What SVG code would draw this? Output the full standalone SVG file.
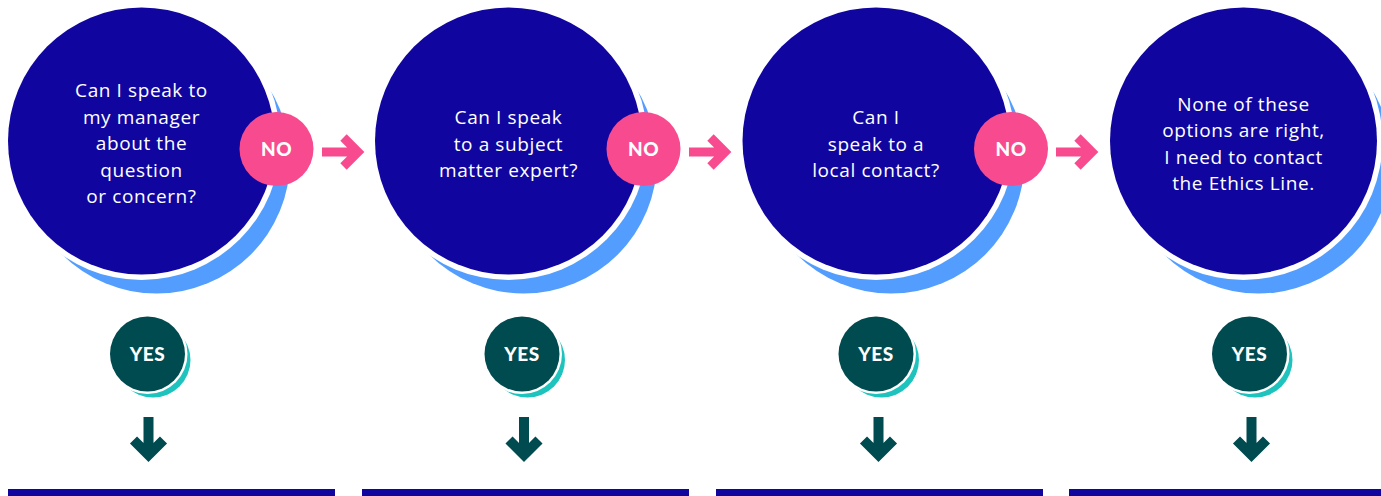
<svg xmlns="http://www.w3.org/2000/svg" width="1381" height="496" viewBox="0 0 1381 496">
  <defs>
    <style>
      .q { fill: #10069F; }
      .qshade { fill: #539DFF; }
      .gap { fill: #FFFFFF; }
      .qt { fill: #FFFFFF; font-family: "Open Sans", Lato, "Liberation Sans", sans-serif; font-size: 19px; letter-spacing: 0.6px; text-anchor: middle; }
      .no { fill: #F84B8F; }
      .yes { fill: #004B4F; }
      .yshade { fill: #1EC3BE; }
      .badge { fill: #FFFFFF; font-family: Lato, "Liberation Sans", sans-serif; font-weight: 900; font-size: 19px; letter-spacing: 0.5px; text-anchor: middle; }
      .next { fill: none; stroke: #F84B8F; stroke-width: 9; stroke-linejoin: miter; }
      .down { fill: none; stroke: #004B4F; stroke-width: 10; stroke-linejoin: miter; }
      .bar { fill: #10069F; }
    </style>
  </defs>

  <rect width="1381" height="496" fill="#FFFFFF"/>

  <!-- question circles -->
  <g id="q1">
    <circle class="qshade" cx="156.5" cy="160" r="133.5"/>
    <circle class="gap" cx="141.5" cy="141" r="139"/>
    <circle class="q" cx="141.5" cy="141" r="133.5"/>
    <text class="qt" x="141.5" y="97">Can I speak to</text>
    <text class="qt" x="141.5" y="123.5">my manager</text>
    <text class="qt" x="141.5" y="150">about the</text>
    <text class="qt" x="141.5" y="176.5">question</text>
    <text class="qt" x="141.5" y="203">or concern?</text>
  </g>
  <g id="q2">
    <circle class="qshade" cx="523.5" cy="160" r="133.5"/>
    <circle class="gap" cx="508.5" cy="141" r="139"/>
    <circle class="q" cx="508.5" cy="141" r="133.5"/>
    <text class="qt" x="508.5" y="124">Can I speak</text>
    <text class="qt" x="508.5" y="150.5">to a subject</text>
    <text class="qt" x="508.5" y="177">matter expert?</text>
  </g>
  <g id="q3">
    <circle class="qshade" cx="891" cy="160" r="133.5"/>
    <circle class="gap" cx="876" cy="141" r="139"/>
    <circle class="q" cx="876" cy="141" r="133.5"/>
    <text class="qt" x="876" y="124">Can I</text>
    <text class="qt" x="876" y="150.5">speak to a</text>
    <text class="qt" x="876" y="177">local contact?</text>
  </g>
  <g id="q4">
    <circle class="qshade" cx="1258.5" cy="160" r="133.5"/>
    <circle class="gap" cx="1243.5" cy="141" r="139"/>
    <circle class="q" cx="1243.5" cy="141" r="133.5"/>
    <text class="qt" x="1243.5" y="110.5">None of these</text>
    <text class="qt" x="1243.5" y="137">options are right,</text>
    <text class="qt" x="1243.5" y="163.7">I need to contact</text>
    <text class="qt" x="1243.5" y="190.3">the Ethics Line.</text>
  </g>

  <!-- NO badges -->
  <g id="no1"><circle class="no" cx="276.5" cy="149" r="37"/><text class="badge" x="276.5" y="156">NO</text></g>
  <g id="no2"><circle class="no" cx="643.5" cy="149" r="37"/><text class="badge" x="643.5" y="156">NO</text></g>
  <g id="no3"><circle class="no" cx="1011" cy="149" r="37"/><text class="badge" x="1011" y="156">NO</text></g>

  <!-- YES badges -->
  <g id="yes1">
    <circle class="yshade" cx="153" cy="360" r="37.5"/>
    <circle class="gap" cx="147.5" cy="354" r="40"/>
    <circle class="yes" cx="147.5" cy="354" r="37.5"/>
    <text class="badge" x="147.5" y="361">YES</text>
  </g>
  <g id="yes2">
    <circle class="yshade" cx="527.5" cy="360" r="37.5"/>
    <circle class="gap" cx="522" cy="354" r="40"/>
    <circle class="yes" cx="522" cy="354" r="37.5"/>
    <text class="badge" x="522" y="361">YES</text>
  </g>
  <g id="yes3">
    <circle class="yshade" cx="881.5" cy="360" r="37.5"/>
    <circle class="gap" cx="876" cy="354" r="40"/>
    <circle class="yes" cx="876" cy="354" r="37.5"/>
    <text class="badge" x="876" y="361">YES</text>
  </g>
  <g id="yes4">
    <circle class="yshade" cx="1255" cy="360" r="37.5"/>
    <circle class="gap" cx="1249.5" cy="354" r="40"/>
    <circle class="yes" cx="1249.5" cy="354" r="37.5"/>
    <text class="badge" x="1249.5" y="361">YES</text>
  </g>

  <!-- answer panels (top edges) -->
  <g id="panels">
    <rect class="bar" x="8" y="489" width="327" height="7"/>
    <rect class="bar" x="362" y="489" width="327" height="7"/>
    <rect class="bar" x="716" y="489" width="327" height="7"/>
    <rect class="bar" x="1069" y="489" width="312" height="7"/>
  </g>

  <!-- connectors -->
  <g id="connectors">
    <g id="next-arrows">
      <path class="next" d="M322 152 H357 M343.5 137.5 L358 152 L343.5 166.5"/>
      <path class="next" d="M689 152 H724 M710.5 137.5 L725 152 L710.5 166.5"/>
      <path class="next" d="M1056 152 H1091 M1077.5 137.5 L1092 152 L1077.5 166.5"/>
    </g>
    <g id="down-arrows">
      <path class="down" d="M148.5 417 V454 M133.5 440 L148.5 455 L163.5 440"/>
      <path class="down" d="M524 417 V454 M509 440 L524 455 L539 440"/>
      <path class="down" d="M878.5 417 V454 M863.5 440 L878.5 455 L893.5 440"/>
      <path class="down" d="M1251.5 417 V454 M1236.5 440 L1251.5 455 L1266.5 440"/>
    </g>
  </g>
</svg>
